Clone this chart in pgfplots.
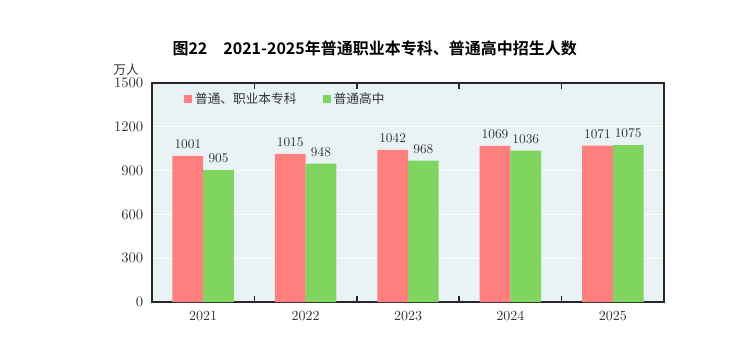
\documentclass[border=0pt]{standalone}
\usepackage{fontspec}
\usepackage{pgfplots}
\pgfplotsset{compat=1.18}
\newfontfamily\cjk{Noto Sans CJK SC}
\newfontfamily\cjkb{Noto Sans CJK SC Bold}
\definecolor{barred}{RGB}{255,127,127}
\definecolor{bargreen}{RGB}{128,212,96}
\definecolor{plotbg}{RGB}{233,243,246}
\definecolor{frame}{RGB}{40,40,40}
\begin{document}
\begin{tikzpicture}[x=1pt,y=1pt]
\begin{axis}[
  at={(114pt,42pt)}, anchor=south west,
  scale only axis, width=384pt, height=164.25pt,
  axis background/.style={fill=plotbg},
  axis line style={frame, line width=1pt},
  xmin=-0.5, xmax=4.5, ymin=0, ymax=1500,
  xtick={0,1,2,3,4},
  xticklabels={2021,2022,2023,2024,2025},
  ytick={0,300,600,900,1200,1500},
  /pgf/number format/1000 sep={},
  major tick length=0pt,
  extra x ticks={0.5,1.5,2.5,3.5},
  extra x tick labels={},
  extra x tick style={major tick length=4.5pt, tick align=inside, tick style={frame, line width=1.2pt}, grid=none},
  ymajorgrids, grid style={white, line width=1pt},
  ticklabel style={font=\fontsize{10.5}{12}\selectfont, text=black!80},
  xticklabel style={yshift=-3pt},
  yticklabel style={xshift=-3pt},
  ybar, bar width=0.3,
  nodes near coords,
  every node near coord/.append style={font=\fontsize{10}{12}\selectfont, text=black!80, yshift=2pt},
  legend style={at={(0.055,0.927)}, anchor=west, draw=none, fill=none,
    font=\cjk\fontsize{9.5}{11}\selectfont, text=black!80, legend columns=2,
    /tikz/every even column/.append style={column sep=18pt}},
  legend image code/.code={\fill[#1] (0pt,-3pt) rectangle (6pt,3pt);},
]
\addplot[fill=barred, draw=none, bar shift=-0.15] coordinates {(0,1001) (1,1015) (2,1042) (3,1069) (4,1071)};
\addplot[fill=bargreen, draw=none, bar shift=0.15] coordinates {(0,905) (1,948) (2,968) (3,1036) (4,1075)};
\legend{普通、职业本专科,普通高中}
\end{axis}
\node[font=\cjkb\fontsize{12}{14}\selectfont] at (281pt,232.5pt) {图22\quad 2021-2025年普通职业本专科、普通高中招生人数};
\node[font=\cjk\fontsize{9.5}{11}\selectfont, text=black!80] at (94.5pt,216pt) {万人};
\pgfresetboundingbox
\path (0,0) rectangle (567pt,268.5pt);
\end{tikzpicture}
\end{document}
